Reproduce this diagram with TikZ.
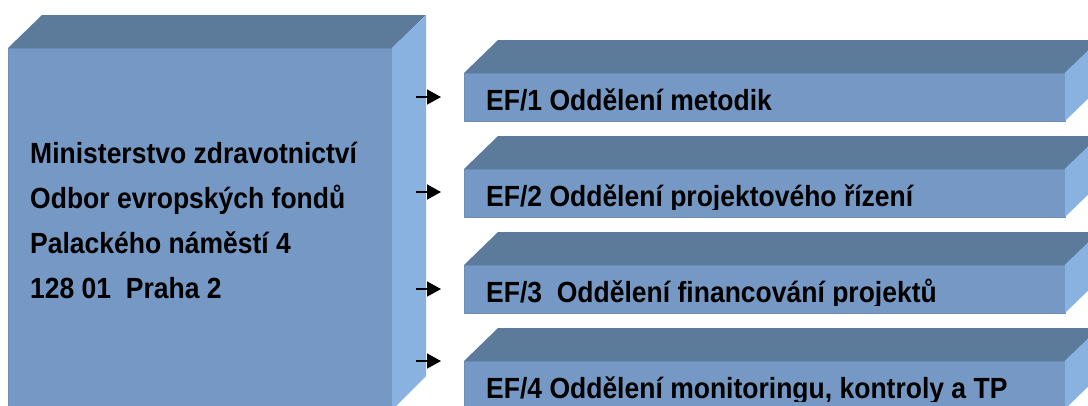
\documentclass[tikz,border=0pt]{standalone}
\usepackage{fontspec}
\setmainfont{Liberation Sans}
\usetikzlibrary{arrows.meta,positioning}
\definecolor{frontblue}{HTML}{7599C4}
\definecolor{topblue}{HTML}{5C7A99}
\definecolor{sideblue}{HTML}{89B2E0}
\definecolor{edgeblue}{HTML}{6C8FBA}
\tikzset{
	frontface/.style = {
			rectangle,
			fill       = frontblue,
			draw       = edgeblue,
			line width = 1pt,
			inner sep  = 0pt,
			outer sep  = 0pt,
			anchor     = north west,
		},
	topface/.style  = {fill=topblue},
	sideface/.style = {fill=sideblue},
	boxtext/.style  = {
			inner sep = 0pt,
			anchor    = base west,
			yscale    = 1.1,
			font      = \bfseries\fontsize{26.5}{30}\selectfont,
		},
	arr/.style = {line width=1.5pt, -{Triangle[length=14pt,width=15pt]}},
}

\begin{document}
\begin{tikzpicture}[x=1pt, y=-1pt]
	\useasboundingbox (0,0) rectangle (1088,405);
	\clip (0,0) rectangle (1088,405);

	% ministry block
	\node[frontface, minimum width=384pt, minimum height=362pt] (mz) at (8,48) {};
	\fill[topface] (mz.north west) -- ++(34,-33) -- ++(384,0) -- (mz.north east) -- cycle;
	\fill[sideface] (mz.north east) -- ++(34,-33) -- ++(0,361) -- (mz.south east) -- cycle;
	\node[boxtext] (mz1) at (30,163) {Ministerstvo zdravotnictví};
	\node[boxtext] (mz2) at (30,208) {Odbor evropských fondů};
	\node[boxtext] (mz3) at (30,253) {Palackého náměstí 4};
	\node[boxtext] (mz4) at (30,298) {128 01\ \ Praha 2};

	% departments
	\foreach \i/\y/\txt in {1/73/{EF/1 Oddělení metodik},
			2/169/{EF/2 Oddělení projektového řízení},
			3/265/{EF/3\ \ Oddělení financování projektů},
			4/361/{EF/4 Oddělení monitoringu, kontroly a TP}}{
		\node[frontface, minimum width=601pt, minimum height=48pt] (ef\i) at (464,\y) {};
		\fill[topface] (ef\i.north west) -- ++(34,-33) -- ++(601,0) -- (ef\i.north east) -- cycle;
		\fill[sideface] (ef\i.north east) -- ++(34,-33) -- ++(0,48) -- (ef\i.south east) -- cycle;
		\begin{scope}
			\clip (ef\i.north west) rectangle ([yshift=8pt]ef\i.south east);
			\node[boxtext] (et\i) at ([xshift=22pt,yshift=11pt]ef\i.south west) {\txt};
		\end{scope}
	}

	% arrows
	\foreach \i/\y in {1/97, 2/192, 3/289, 4/361}{
		\coordinate (as\i) at (416,\y);
		\coordinate (ae\i) at (441,\y);
		\draw[arr] (as\i) -- (ae\i);
	}
\end{tikzpicture}
\end{document}
